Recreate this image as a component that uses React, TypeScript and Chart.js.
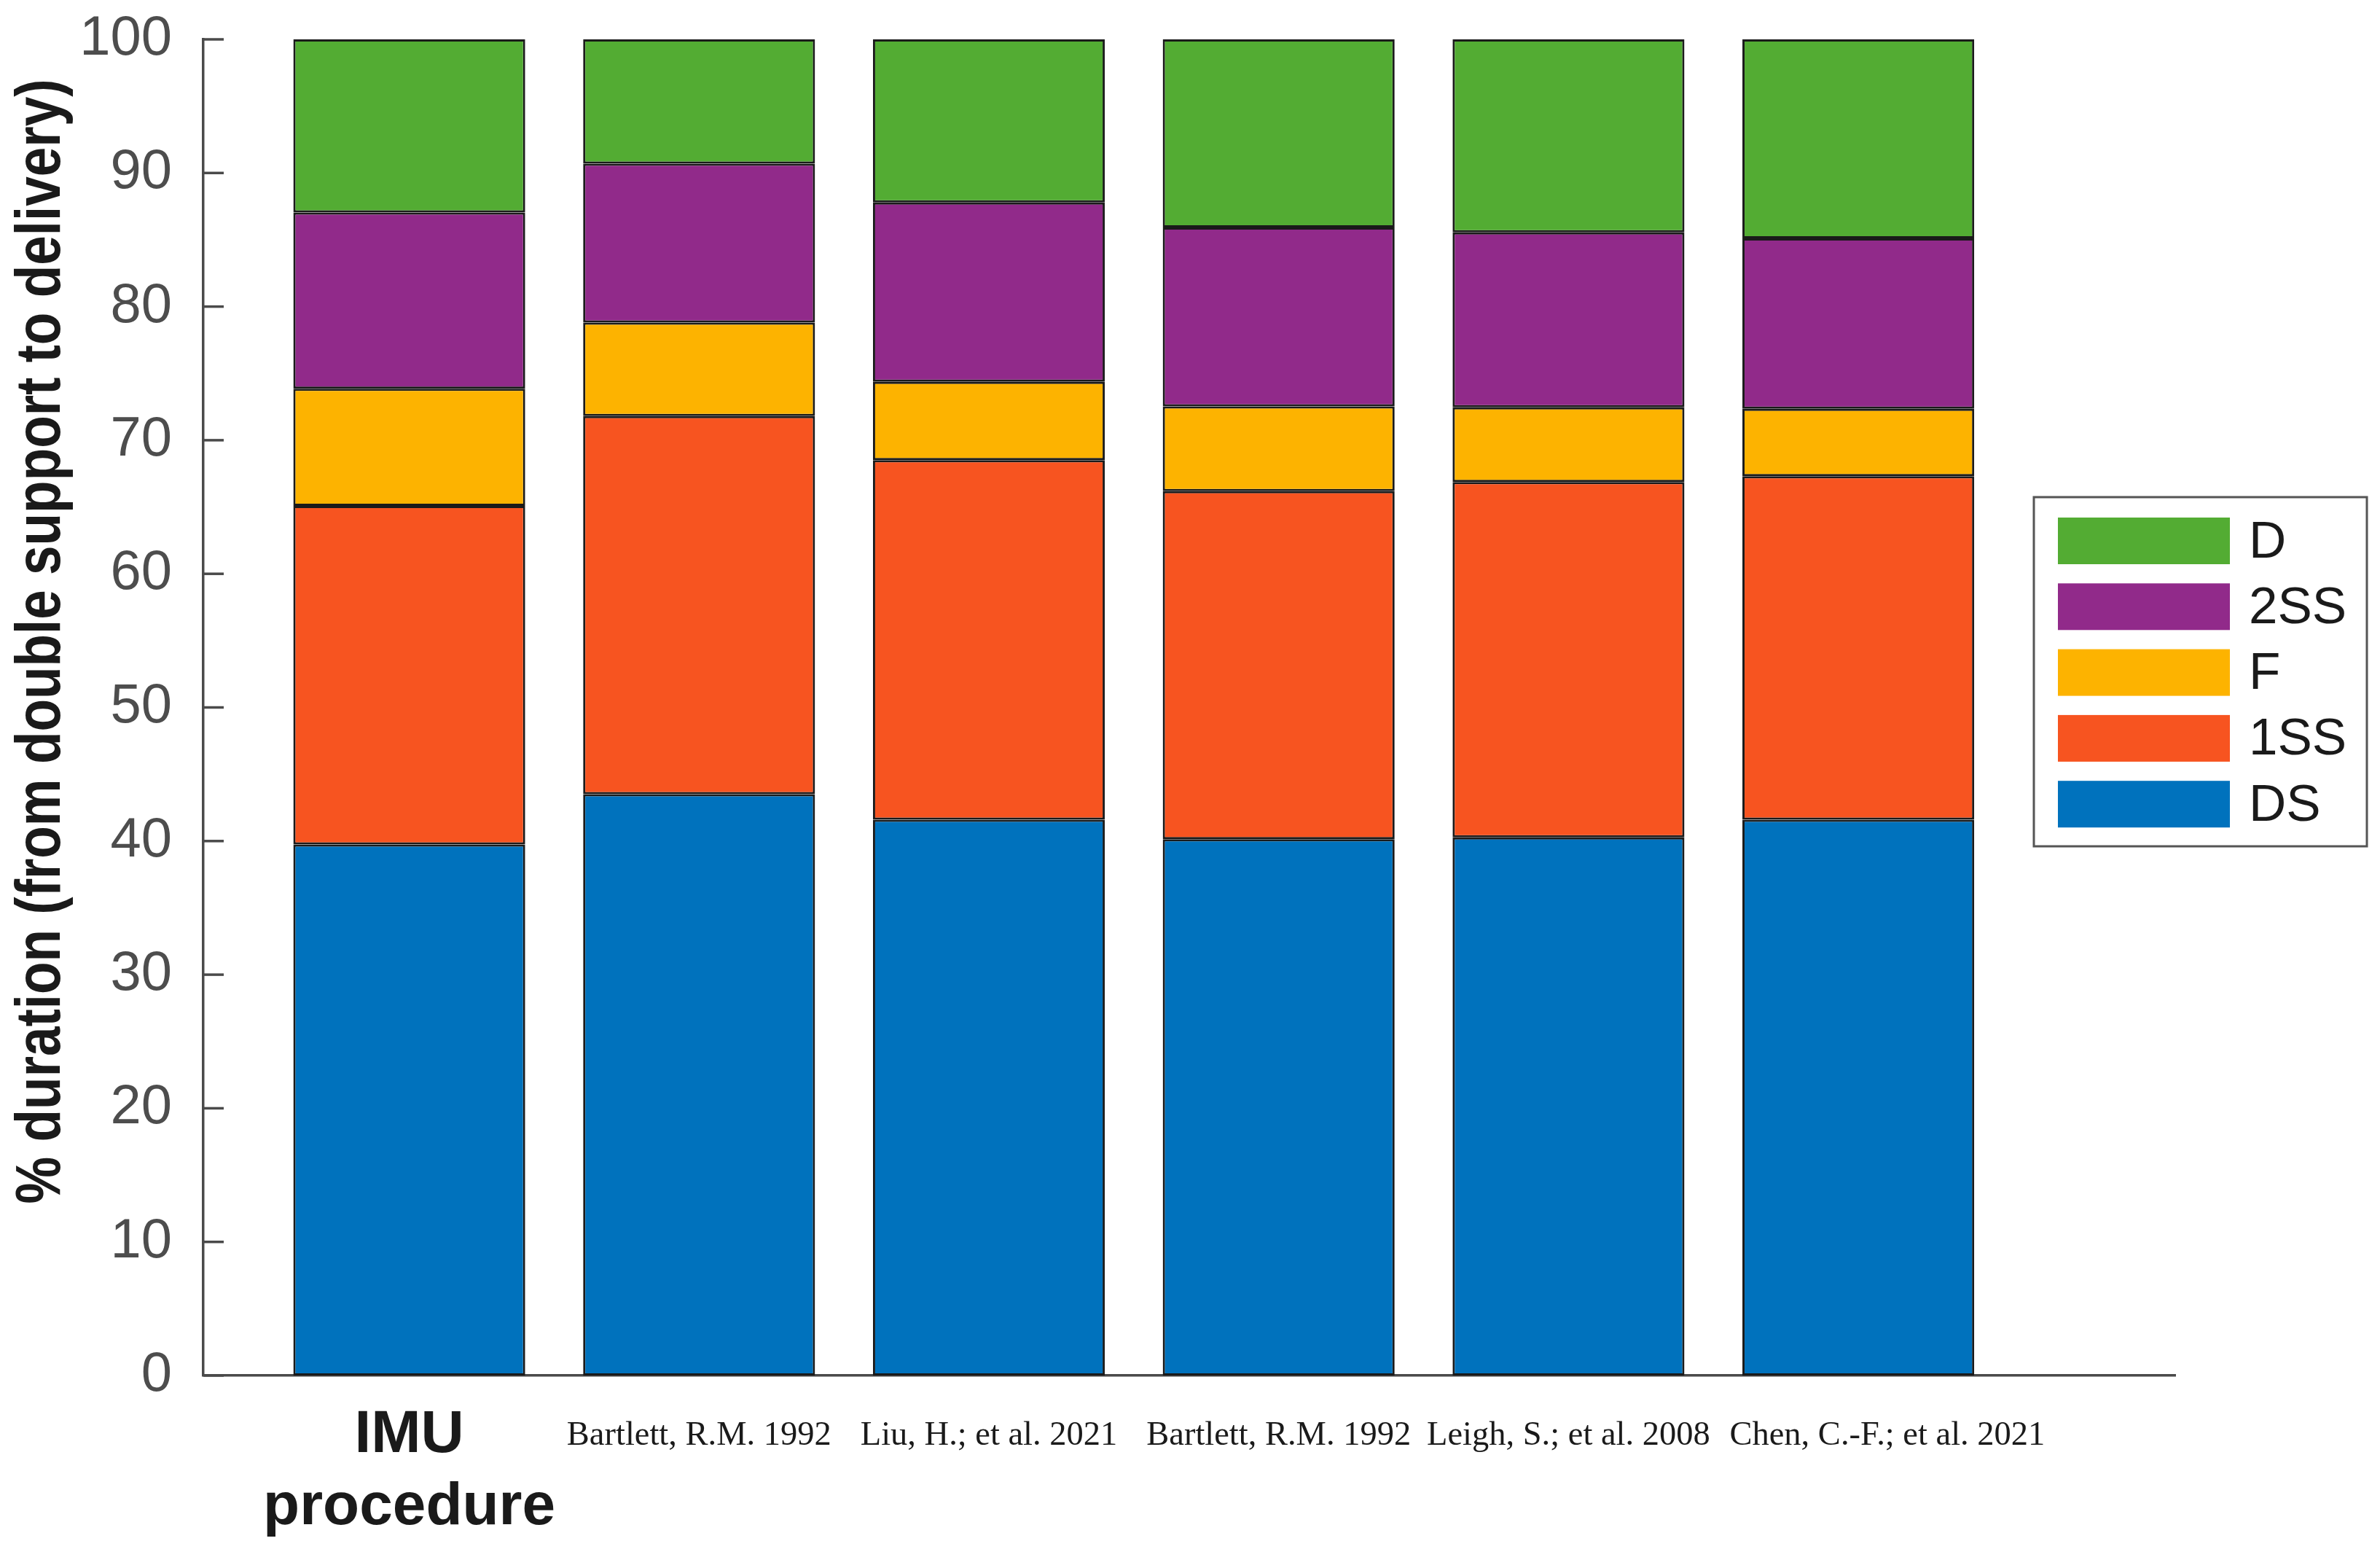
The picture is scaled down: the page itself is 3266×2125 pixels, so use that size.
import React, { useEffect, useRef } from 'react';
import { Chart, registerables } from 'chart.js';

Chart.register(...registerables);

// studies along the x axis (first one is our own, drawn bold on two lines)
const studies: (string | string[])[] = [
  ['IMU', 'procedure'],
  'Bartlett, R.M. 1992',
  'Liu, H.; et al. 2021',
  'Bartlett, R.M. 1992',
  'Leigh, S.; et al. 2008',
  'Chen, C.-F.; et al. 2021',
];

// phase shares in % (stacked bottom to top)
const phases = ['DS', '1SS', 'F', '2SS', 'D'];
const dsShare = [39.75, 43.51, 41.6, 40.14, 40.28, 41.6];
const ss1Share = [25.34, 28.3, 26.91, 26.05, 26.59, 25.71];
const fShare = [8.77, 6.99, 5.86, 6.34, 5.59, 5.05];
const ss2Share = [13.18, 11.9, 13.43, 13.4, 13.1, 12.75];
const dShare = [12.96, 9.3, 12.2, 14.07, 14.44, 14.89];
const phaseColors = ['#0072BD', '#F75420', '#FDB300', '#912A8A', '#53AC33'];

const yTitle = '% duration (from double support to delivery)';

const AXIS_COLOR = '#4a4a4a';
const TEXT_COLOR = '#1a1a1a';

// the last label sits a little right of its bar in the original
const labelShift = [0, 0, 0, 0, 0, 0.1];

// inward y ticks, rotated y title and the boxed legend (MATLAB look)
const decorations = {
  id: 'decorations',
  afterDraw(chart: any) {
    const { ctx, chartArea, scales } = chart;
    const y = scales.y;
    ctx.save();

    ctx.strokeStyle = AXIS_COLOR;
    ctx.lineWidth = 3.5;
    y.ticks.forEach((t: any) => {
      const py = y.getPixelForValue(t.value);
      ctx.beginPath();
      ctx.moveTo(chartArea.left, py);
      ctx.lineTo(chartArea.left + 28, py);
      ctx.stroke();
    });

    // y title (condensed bold like the original)
    ctx.save();
    ctx.font = 'bold 88px "Liberation Sans", Arial, sans-serif';
    const w = ctx.measureText(yTitle).width;
    ctx.translate(74, 872);
    ctx.rotate(-Math.PI / 2);
    ctx.scale(1543 / w, 1);
    ctx.fillStyle = TEXT_COLOR;
    ctx.textAlign = 'center';
    ctx.textBaseline = 'alphabetic';
    ctx.fillText(yTitle, 0, 0);
    ctx.restore();

    // legend
    const bx = 2783, by = 674, bw = 457, bh = 479;
    ctx.fillStyle = '#ffffff';
    ctx.fillRect(bx, by, bw, bh);
    ctx.strokeStyle = '#555555';
    ctx.lineWidth = 3;
    ctx.strokeRect(bx, by, bw, bh);
    ctx.font = '71px "Liberation Sans", Arial, sans-serif';
    ctx.textAlign = 'left';
    ctx.textBaseline = 'middle';
    const order = [...chart.data.datasets].reverse();
    order.forEach((ds: any, i: number) => {
      const top = by + 28 + i * 90.3;
      ctx.fillStyle = ds.backgroundColor;
      ctx.fillRect(bx + 33, top, 236, 64);
      ctx.fillStyle = TEXT_COLOR;
      ctx.fillText(ds.label, bx + 295, top + 35);
    });

    ctx.restore();
  },
};

const App: React.FC = () => {
  const canvasRef = useRef<HTMLCanvasElement | null>(null);

  useEffect(() => {
    if (!canvasRef.current) return;
    const ctx = canvasRef.current.getContext('2d');
    if (!ctx) return;

    const series = [dsShare, ss1Share, fShare, ss2Share, dShare];

    const chart = new Chart(ctx, {
      type: 'bar',
      data: {
        datasets: phases.map((name, k) => ({
          label: name,
          data: series[k].map((v, i) => ({ x: i + 1, y: v })),
          backgroundColor: phaseColors[k],
          borderColor: '#1a1a1a',
          borderWidth: 3,
          borderSkipped: false,
          barPercentage: 0.8,
          categoryPercentage: 1,
        })),
      },
      options: {
        animation: false,
        responsive: true,
        maintainAspectRatio: false,
        layout: { padding: { top: 46, right: 273, bottom: 0, left: 0 } },
        plugins: {
          legend: { display: false },
          tooltip: { enabled: false },
        },
        scales: {
          x: {
            type: 'linear',
            stacked: true,
            offset: false,
            min: 0.2894,
            max: 7.0935,
            grid: { display: false, drawTicks: false, offset: false },
            border: { display: true, color: AXIS_COLOR, width: 3.5 },
            afterBuildTicks: (scale: any) => {
              scale.ticks = studies.map((_, i) => ({ value: i + 1 + labelShift[i] }));
            },
            afterFit: (scale: any) => {
              scale.height = 226;
              scale.paddingLeft = 0;
              scale.paddingRight = 0;
            },
            ticks: {
              autoSkip: false,
              maxRotation: 0,
              minRotation: 0,
              padding: 33,
              color: TEXT_COLOR,
              callback: (value: any) => studies[Math.round(Number(value)) - 1] ?? '',
              font: (c: any) =>
                c.index === 0
                  ? { family: '"Liberation Sans", Arial, sans-serif', size: 82, weight: 'bold', lineHeight: '99px' }
                  : { family: '"Liberation Serif", "Times New Roman", serif', size: 46.5, lineHeight: '99px' },
            },
          },
          y: {
            stacked: true,
            min: 0,
            max: 100,
            grid: { display: false, drawTicks: false },
            border: { display: true, color: AXIS_COLOR, width: 3.5 },
            afterFit: (scale: any) => {
              scale.width = 271;
              scale.paddingTop = 0;
              scale.paddingBottom = 0;
            },
            ticks: {
              stepSize: 10,
              padding: 43,
              color: '#4d4d4d',
              font: { family: '"Liberation Sans", Arial, sans-serif', size: 76, lineHeight: 1 },
            },
          },
        },
      },
      plugins: [decorations],
    });

    return () => {
      chart.destroy();
    };
  }, []);

  return (
    <div style={{ width: 3250, height: 2105, background: '#ffffff' }}>
      <canvas ref={canvasRef} />
    </div>
  );
};

export default App;
